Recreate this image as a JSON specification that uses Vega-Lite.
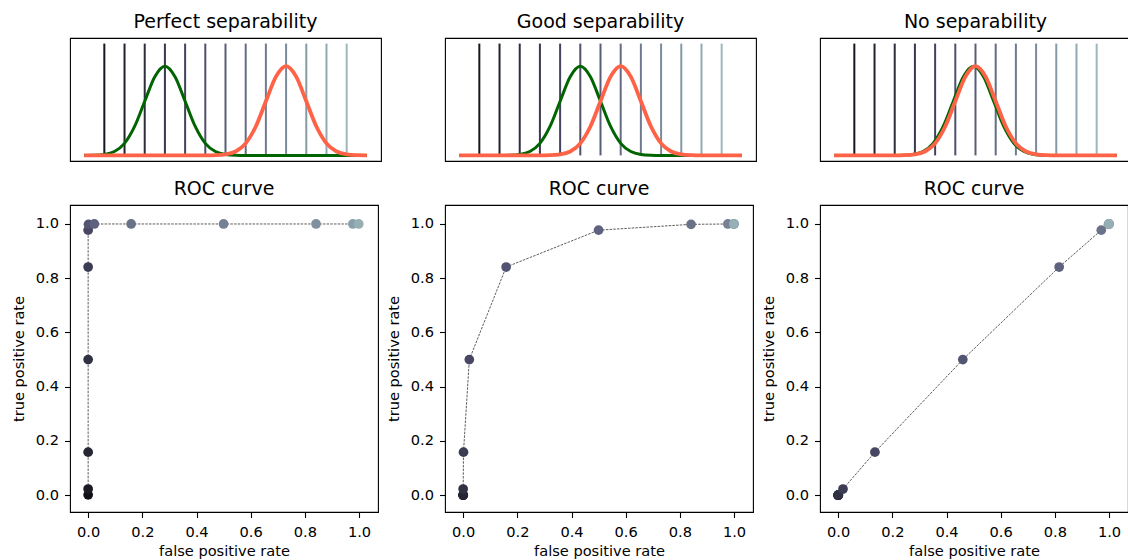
{
"$schema": "https://vega.github.io/schema/vega-lite/v6.json",
"padding": {"left": 10, "top": 12, "right": 0, "bottom": 0},
"background": "white",
"config": {
  "font": "DejaVu Sans",
  "view": {"stroke": "black", "strokeWidth": 1.1},
  "title": {"font": "DejaVu Sans", "fontSize": 19, "fontWeight": "normal", "color": "black", "baseline": "alphabetic", "offset": 6.3, "anchor": "middle", "frame": "group"},
  "axis": {"grid": false, "domain": false, "ticks": true, "tickColor": "black", "tickSize": 5.5, "tickWidth": 1.1, "labelFont": "DejaVu Sans", "labelFontSize": 14.6, "labelColor": "black", "labelPadding": 6, "titleFont": "DejaVu Sans", "titleFontSize": 14.6, "titleFontWeight": "normal", "titleColor": "black"},
  "axisX": {"titlePadding": 4, "labelPadding": 7},
  "axisY": {"titlePadding": 9}
},
"datasets": {
  "thr": [{"t":0},{"t":1},{"t":2},{"t":3},{"t":4},{"t":5},{"t":6},{"t":7},{"t":8},{"t":9},{"t":10},{"t":11},{"t":12}],
  "curves": [
    {"p":1,"s":"n","u":-1,"d":0},{"p":1,"s":"n","u":-0.5,"d":0.0009},{"p":1,"s":"n","u":0,"d":0.0044},{"p":1,"s":"n","u":0.5,"d":0.0175},{"p":1,"s":"n","u":1,"d":0.054},{"p":1,"s":"n","u":1.5,"d":0.1295},{"p":1,"s":"n","u":2,"d":0.242},{"p":1,"s":"n","u":2.5,"d":0.3521},{"p":1,"s":"n","u":3,"d":0.3989},{"p":1,"s":"n","u":3.5,"d":0.3521},{"p":1,"s":"n","u":4,"d":0.242},{"p":1,"s":"n","u":4.5,"d":0.1295},{"p":1,"s":"n","u":5,"d":0.054},{"p":1,"s":"n","u":5.5,"d":0.0175},{"p":1,"s":"n","u":6,"d":0.0044},{"p":1,"s":"n","u":6.5,"d":0.0009},{"p":1,"s":"n","u":7,"d":0},{"p":1,"s":"n","u":13,"d":0},
    {"p":1,"s":"r","u":-1,"d":0},{"p":1,"s":"r","u":5,"d":0},{"p":1,"s":"r","u":5.5,"d":0.0009},{"p":1,"s":"r","u":6,"d":0.0044},{"p":1,"s":"r","u":6.5,"d":0.0175},{"p":1,"s":"r","u":7,"d":0.054},{"p":1,"s":"r","u":7.5,"d":0.1295},{"p":1,"s":"r","u":8,"d":0.242},{"p":1,"s":"r","u":8.5,"d":0.3521},{"p":1,"s":"r","u":9,"d":0.3989},{"p":1,"s":"r","u":9.5,"d":0.3521},{"p":1,"s":"r","u":10,"d":0.242},{"p":1,"s":"r","u":10.5,"d":0.1295},{"p":1,"s":"r","u":11,"d":0.054},{"p":1,"s":"r","u":11.5,"d":0.0175},{"p":1,"s":"r","u":12,"d":0.0044},{"p":1,"s":"r","u":12.5,"d":0.0009},{"p":1,"s":"r","u":13,"d":0},
    {"p":2,"s":"n","u":-1,"d":0},{"p":2,"s":"n","u":1,"d":0},{"p":2,"s":"n","u":1.5,"d":0.0009},{"p":2,"s":"n","u":2,"d":0.0044},{"p":2,"s":"n","u":2.5,"d":0.0175},{"p":2,"s":"n","u":3,"d":0.054},{"p":2,"s":"n","u":3.5,"d":0.1295},{"p":2,"s":"n","u":4,"d":0.242},{"p":2,"s":"n","u":4.5,"d":0.3521},{"p":2,"s":"n","u":5,"d":0.3989},{"p":2,"s":"n","u":5.5,"d":0.3521},{"p":2,"s":"n","u":6,"d":0.242},{"p":2,"s":"n","u":6.5,"d":0.1295},{"p":2,"s":"n","u":7,"d":0.054},{"p":2,"s":"n","u":7.5,"d":0.0175},{"p":2,"s":"n","u":8,"d":0.0044},{"p":2,"s":"n","u":8.5,"d":0.0009},{"p":2,"s":"n","u":9,"d":0},{"p":2,"s":"n","u":13,"d":0},
    {"p":2,"s":"r","u":-1,"d":0},{"p":2,"s":"r","u":3,"d":0},{"p":2,"s":"r","u":3.5,"d":0.0009},{"p":2,"s":"r","u":4,"d":0.0044},{"p":2,"s":"r","u":4.5,"d":0.0175},{"p":2,"s":"r","u":5,"d":0.054},{"p":2,"s":"r","u":5.5,"d":0.1295},{"p":2,"s":"r","u":6,"d":0.242},{"p":2,"s":"r","u":6.5,"d":0.3521},{"p":2,"s":"r","u":7,"d":0.3989},{"p":2,"s":"r","u":7.5,"d":0.3521},{"p":2,"s":"r","u":8,"d":0.242},{"p":2,"s":"r","u":8.5,"d":0.1295},{"p":2,"s":"r","u":9,"d":0.054},{"p":2,"s":"r","u":9.5,"d":0.0175},{"p":2,"s":"r","u":10,"d":0.0044},{"p":2,"s":"r","u":10.5,"d":0.0009},{"p":2,"s":"r","u":11,"d":0},{"p":2,"s":"r","u":13,"d":0},
    {"p":3,"s":"n","u":-1,"d":0},{"p":3,"s":"n","u":1.9,"d":0},{"p":3,"s":"n","u":2.4,"d":0.0009},{"p":3,"s":"n","u":2.9,"d":0.0044},{"p":3,"s":"n","u":3.4,"d":0.0175},{"p":3,"s":"n","u":3.9,"d":0.054},{"p":3,"s":"n","u":4.4,"d":0.1295},{"p":3,"s":"n","u":4.9,"d":0.242},{"p":3,"s":"n","u":5.4,"d":0.3521},{"p":3,"s":"n","u":5.9,"d":0.3989},{"p":3,"s":"n","u":6.4,"d":0.3521},{"p":3,"s":"n","u":6.9,"d":0.242},{"p":3,"s":"n","u":7.4,"d":0.1295},{"p":3,"s":"n","u":7.9,"d":0.054},{"p":3,"s":"n","u":8.4,"d":0.0175},{"p":3,"s":"n","u":8.9,"d":0.0044},{"p":3,"s":"n","u":9.4,"d":0.0009},{"p":3,"s":"n","u":9.9,"d":0},{"p":3,"s":"n","u":13,"d":0},
    {"p":3,"s":"r","u":-1,"d":0},{"p":3,"s":"r","u":2,"d":0},{"p":3,"s":"r","u":2.5,"d":0.0009},{"p":3,"s":"r","u":3,"d":0.0044},{"p":3,"s":"r","u":3.5,"d":0.0175},{"p":3,"s":"r","u":4,"d":0.054},{"p":3,"s":"r","u":4.5,"d":0.1295},{"p":3,"s":"r","u":5,"d":0.242},{"p":3,"s":"r","u":5.5,"d":0.3521},{"p":3,"s":"r","u":6,"d":0.3989},{"p":3,"s":"r","u":6.5,"d":0.3521},{"p":3,"s":"r","u":7,"d":0.242},{"p":3,"s":"r","u":7.5,"d":0.1295},{"p":3,"s":"r","u":8,"d":0.054},{"p":3,"s":"r","u":8.5,"d":0.0175},{"p":3,"s":"r","u":9,"d":0.0044},{"p":3,"s":"r","u":9.5,"d":0.0009},{"p":3,"s":"r","u":10,"d":0},{"p":3,"s":"r","u":13,"d":0}
  ],
  "roc": [
    {"p":1,"t":12,"fpr":0,"tpr":0.0013},{"p":1,"t":11,"fpr":0,"tpr":0.0228},{"p":1,"t":10,"fpr":0,"tpr":0.1587},{"p":1,"t":9,"fpr":0,"tpr":0.5},{"p":1,"t":8,"fpr":0,"tpr":0.8413},{"p":1,"t":7,"fpr":0,"tpr":0.9772},{"p":1,"t":6,"fpr":0.0013,"tpr":0.9987},{"p":1,"t":5,"fpr":0.0228,"tpr":1},{"p":1,"t":4,"fpr":0.1587,"tpr":1},{"p":1,"t":3,"fpr":0.5,"tpr":1},{"p":1,"t":2,"fpr":0.8413,"tpr":1},{"p":1,"t":1,"fpr":0.9772,"tpr":1},{"p":1,"t":0,"fpr":0.9987,"tpr":1},
    {"p":2,"t":12,"fpr":0,"tpr":0},{"p":2,"t":11,"fpr":0,"tpr":0},{"p":2,"t":10,"fpr":0,"tpr":0.0013},{"p":2,"t":9,"fpr":0,"tpr":0.0228},{"p":2,"t":8,"fpr":0.0013,"tpr":0.1587},{"p":2,"t":7,"fpr":0.0228,"tpr":0.5},{"p":2,"t":6,"fpr":0.1587,"tpr":0.8413},{"p":2,"t":5,"fpr":0.5,"tpr":0.9772},{"p":2,"t":4,"fpr":0.8413,"tpr":0.9987},{"p":2,"t":3,"fpr":0.9772,"tpr":1},{"p":2,"t":2,"fpr":0.9987,"tpr":1},{"p":2,"t":1,"fpr":1,"tpr":1},{"p":2,"t":0,"fpr":1,"tpr":1},
    {"p":3,"t":12,"fpr":0,"tpr":0},{"p":3,"t":11,"fpr":0,"tpr":0},{"p":3,"t":10,"fpr":0,"tpr":0},{"p":3,"t":9,"fpr":0.001,"tpr":0.0013},{"p":3,"t":8,"fpr":0.0179,"tpr":0.0228},{"p":3,"t":7,"fpr":0.1357,"tpr":0.1587},{"p":3,"t":6,"fpr":0.4602,"tpr":0.5},{"p":3,"t":5,"fpr":0.8159,"tpr":0.8413},{"p":3,"t":4,"fpr":0.9713,"tpr":0.9772},{"p":3,"t":3,"fpr":0.9981,"tpr":0.9987},{"p":3,"t":2,"fpr":1,"tpr":1},{"p":3,"t":1,"fpr":1,"tpr":1},{"p":3,"t":0,"fpr":1,"tpr":1}
  ]
},
"columns": 3,
"spacing": {"row": 15, "column": 3},
"resolve": {"scale": {"x": "independent", "y": "independent", "color": "independent"}},
"concat": [
  {"width": 311, "height": 123, "title": "Perfect separability", "layer": [
    {"data": {"name": "thr"}, "mark": {"type": "rule", "strokeWidth": 2}, "encoding": {"x": {"field": "t", "type": "quantitative", "scale": {"domain": [-1.7, 13.7], "nice": false, "zero": false}, "axis": null}, "y": {"datum": 0, "type": "quantitative", "scale": {"domain": [-0.025, 0.525], "nice": false, "zero": false}, "axis": null}, "y2": {"datum": 0.5}, "color": {"field": "t", "type": "ordinal", "scale": {"domain": [0,1,2,3,4,5,6,7,8,9,10,11,12], "range": ["#16161f","#21212f","#2d2d3e","#38384e","#43435d","#4e4e6d","#595c79","#646c84","#707b8f","#7b8a9b","#869aa6","#91a9b1","#9cb8bc"]}, "legend": null}}},
    {"data": {"name": "curves"}, "transform": [{"filter": "datum.p == 1 && datum.s == 'n'"}], "mark": {"type": "line", "color": "#006400", "strokeWidth": 3, "interpolate": "monotone"}, "encoding": {"x": {"field": "u", "type": "quantitative", "scale": {"domain": [-1.7, 13.7], "nice": false, "zero": false}, "axis": null}, "y": {"field": "d", "type": "quantitative", "scale": {"domain": [-0.025, 0.525], "nice": false, "zero": false}, "axis": null}}},
    {"data": {"name": "curves"}, "transform": [{"filter": "datum.p == 1 && datum.s == 'r'"}], "mark": {"type": "line", "color": "#ff6347", "strokeWidth": 3.8, "interpolate": "monotone"}, "encoding": {"x": {"field": "u", "type": "quantitative", "scale": {"domain": [-1.7, 13.7], "nice": false, "zero": false}, "axis": null}, "y": {"field": "d", "type": "quantitative", "scale": {"domain": [-0.025, 0.525], "nice": false, "zero": false}, "axis": null}}}
  ]},
  {"width": 311, "height": 123, "title": "Good separability", "layer": [
    {"data": {"name": "thr"}, "mark": {"type": "rule", "strokeWidth": 2}, "encoding": {"x": {"field": "t", "type": "quantitative", "scale": {"domain": [-1.7, 13.7], "nice": false, "zero": false}, "axis": null}, "y": {"datum": 0, "type": "quantitative", "scale": {"domain": [-0.025, 0.525], "nice": false, "zero": false}, "axis": null}, "y2": {"datum": 0.5}, "color": {"field": "t", "type": "ordinal", "scale": {"domain": [0,1,2,3,4,5,6,7,8,9,10,11,12], "range": ["#16161f","#21212f","#2d2d3e","#38384e","#43435d","#4e4e6d","#595c79","#646c84","#707b8f","#7b8a9b","#869aa6","#91a9b1","#9cb8bc"]}, "legend": null}}},
    {"data": {"name": "curves"}, "transform": [{"filter": "datum.p == 2 && datum.s == 'n'"}], "mark": {"type": "line", "color": "#006400", "strokeWidth": 3, "interpolate": "monotone"}, "encoding": {"x": {"field": "u", "type": "quantitative", "scale": {"domain": [-1.7, 13.7], "nice": false, "zero": false}, "axis": null}, "y": {"field": "d", "type": "quantitative", "scale": {"domain": [-0.025, 0.525], "nice": false, "zero": false}, "axis": null}}},
    {"data": {"name": "curves"}, "transform": [{"filter": "datum.p == 2 && datum.s == 'r'"}], "mark": {"type": "line", "color": "#ff6347", "strokeWidth": 3.8, "interpolate": "monotone"}, "encoding": {"x": {"field": "u", "type": "quantitative", "scale": {"domain": [-1.7, 13.7], "nice": false, "zero": false}, "axis": null}, "y": {"field": "d", "type": "quantitative", "scale": {"domain": [-0.025, 0.525], "nice": false, "zero": false}, "axis": null}}}
  ]},
  {"width": 311, "height": 123, "title": "No separability", "layer": [
    {"data": {"name": "thr"}, "mark": {"type": "rule", "strokeWidth": 2}, "encoding": {"x": {"field": "t", "type": "quantitative", "scale": {"domain": [-1.7, 13.7], "nice": false, "zero": false}, "axis": null}, "y": {"datum": 0, "type": "quantitative", "scale": {"domain": [-0.025, 0.525], "nice": false, "zero": false}, "axis": null}, "y2": {"datum": 0.5}, "color": {"field": "t", "type": "ordinal", "scale": {"domain": [0,1,2,3,4,5,6,7,8,9,10,11,12], "range": ["#16161f","#21212f","#2d2d3e","#38384e","#43435d","#4e4e6d","#595c79","#646c84","#707b8f","#7b8a9b","#869aa6","#91a9b1","#9cb8bc"]}, "legend": null}}},
    {"data": {"name": "curves"}, "transform": [{"filter": "datum.p == 3 && datum.s == 'n'"}], "mark": {"type": "line", "color": "#006400", "strokeWidth": 3, "interpolate": "monotone"}, "encoding": {"x": {"field": "u", "type": "quantitative", "scale": {"domain": [-1.7, 13.7], "nice": false, "zero": false}, "axis": null}, "y": {"field": "d", "type": "quantitative", "scale": {"domain": [-0.025, 0.525], "nice": false, "zero": false}, "axis": null}}},
    {"data": {"name": "curves"}, "transform": [{"filter": "datum.p == 3 && datum.s == 'r'"}], "mark": {"type": "line", "color": "#ff6347", "strokeWidth": 3.8, "interpolate": "monotone"}, "encoding": {"x": {"field": "u", "type": "quantitative", "scale": {"domain": [-1.7, 13.7], "nice": false, "zero": false}, "axis": null}, "y": {"field": "d", "type": "quantitative", "scale": {"domain": [-0.025, 0.525], "nice": false, "zero": false}, "axis": null}}}
  ]},
  {"width": 308, "height": 307, "title": "ROC curve", "data": {"name": "roc"}, "transform": [{"filter": "datum.p == 1"}], "layer": [
    {"mark": {"type": "line", "color": "#333333", "strokeWidth": 0.8, "strokeDash": [2.5, 1.2]}, "encoding": {"x": {"field": "fpr", "type": "quantitative", "scale": {"domain": [-0.067, 1.07], "nice": false, "zero": false}, "axis": {"title": "false positive rate", "values": [0, 0.2, 0.4, 0.6, 0.8, 1], "format": ".1f"}}, "y": {"field": "tpr", "type": "quantitative", "scale": {"domain": [-0.062, 1.07], "nice": false, "zero": false}, "axis": {"title": "true positive rate", "values": [0, 0.2, 0.4, 0.6, 0.8, 1], "format": ".1f"}}, "order": {"field": "t", "type": "quantitative"}}},
    {"mark": {"type": "circle", "size": 95, "opacity": 1}, "encoding": {"x": {"field": "fpr", "type": "quantitative", "scale": {"domain": [-0.067, 1.07], "nice": false, "zero": false}}, "y": {"field": "tpr", "type": "quantitative", "scale": {"domain": [-0.062, 1.07], "nice": false, "zero": false}}, "color": {"field": "t", "type": "ordinal", "scale": {"domain": [0,1,2,3,4,5,6,7,8,9,10,11,12], "range": ["#95afb5","#8aa0aa","#7f909f","#748194","#697289","#5e627e","#535372","#474763","#3c3c54","#313144","#262635","#1b1b25","#101016"]}, "legend": null}, "order": {"field": "t", "type": "quantitative", "sort": "descending"}}}
  ]},
  {"width": 308, "height": 307, "title": "ROC curve", "data": {"name": "roc"}, "transform": [{"filter": "datum.p == 2"}], "layer": [
    {"mark": {"type": "line", "color": "#333333", "strokeWidth": 0.8, "strokeDash": [2.5, 1.2]}, "encoding": {"x": {"field": "fpr", "type": "quantitative", "scale": {"domain": [-0.067, 1.07], "nice": false, "zero": false}, "axis": {"title": "false positive rate", "values": [0, 0.2, 0.4, 0.6, 0.8, 1], "format": ".1f"}}, "y": {"field": "tpr", "type": "quantitative", "scale": {"domain": [-0.062, 1.07], "nice": false, "zero": false}, "axis": {"title": "true positive rate", "values": [0, 0.2, 0.4, 0.6, 0.8, 1], "format": ".1f"}}, "order": {"field": "t", "type": "quantitative"}}},
    {"mark": {"type": "circle", "size": 95, "opacity": 1}, "encoding": {"x": {"field": "fpr", "type": "quantitative", "scale": {"domain": [-0.067, 1.07], "nice": false, "zero": false}}, "y": {"field": "tpr", "type": "quantitative", "scale": {"domain": [-0.062, 1.07], "nice": false, "zero": false}}, "color": {"field": "t", "type": "ordinal", "scale": {"domain": [0,1,2,3,4,5,6,7,8,9,10,11,12], "range": ["#95afb5","#8aa0aa","#7f909f","#748194","#697289","#5e627e","#535372","#474763","#3c3c54","#313144","#262635","#1b1b25","#101016"]}, "legend": null}, "order": {"field": "t", "type": "quantitative", "sort": "descending"}}}
  ]},
  {"width": 308, "height": 307, "title": "ROC curve", "data": {"name": "roc"}, "transform": [{"filter": "datum.p == 3"}], "layer": [
    {"mark": {"type": "line", "color": "#333333", "strokeWidth": 0.8, "strokeDash": [2.5, 1.2]}, "encoding": {"x": {"field": "fpr", "type": "quantitative", "scale": {"domain": [-0.067, 1.07], "nice": false, "zero": false}, "axis": {"title": "false positive rate", "values": [0, 0.2, 0.4, 0.6, 0.8, 1], "format": ".1f"}}, "y": {"field": "tpr", "type": "quantitative", "scale": {"domain": [-0.062, 1.07], "nice": false, "zero": false}, "axis": {"title": "true positive rate", "values": [0, 0.2, 0.4, 0.6, 0.8, 1], "format": ".1f"}}, "order": {"field": "t", "type": "quantitative"}}},
    {"mark": {"type": "circle", "size": 95, "opacity": 1}, "encoding": {"x": {"field": "fpr", "type": "quantitative", "scale": {"domain": [-0.067, 1.07], "nice": false, "zero": false}}, "y": {"field": "tpr", "type": "quantitative", "scale": {"domain": [-0.062, 1.07], "nice": false, "zero": false}}, "color": {"field": "t", "type": "ordinal", "scale": {"domain": [0,1,2,3,4,5,6,7,8,9,10,11,12], "range": ["#95afb5","#8aa0aa","#7f909f","#748194","#697289","#5e627e","#535372","#474763","#3c3c54","#313144","#262635","#1b1b25","#101016"]}, "legend": null}, "order": {"field": "t", "type": "quantitative", "sort": "descending"}}}
  ]}
]
}
